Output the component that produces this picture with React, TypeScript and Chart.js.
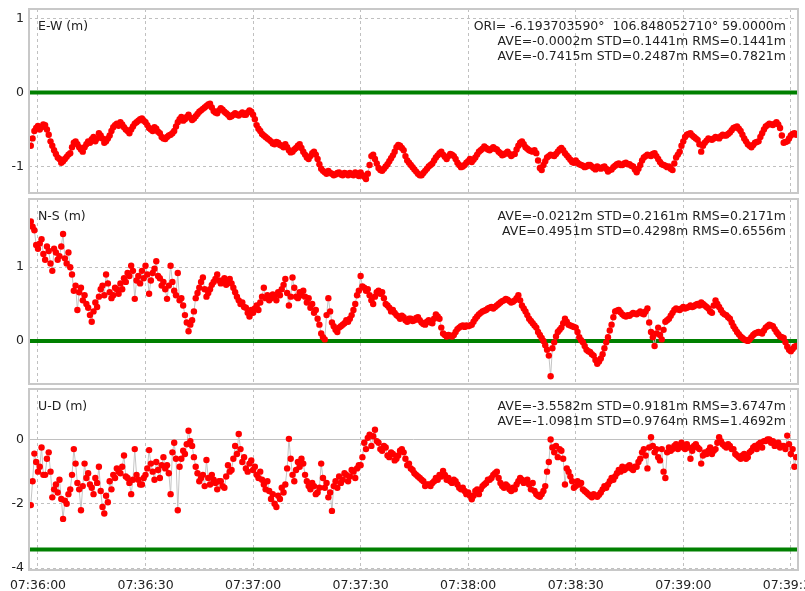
import React, { useEffect, useRef } from 'react';
import { Chart, registerables } from 'chart.js';

Chart.register(...registerables);

// first sample time (seconds after 07:36:00) and sampling interval (s)
const START_SEC = -2;
const SAMPLE_STEP = 0.5;
const BASE_CLOCK = '07:36:00';

const EW = [
  -0.72, -0.62, -0.52, -0.48, -0.45, -0.50, -0.47, -0.43, -0.44, -0.50,
  -0.57, -0.66, -0.72, -0.78, -0.83, -0.88, -0.90, -0.95, -0.93, -0.90,
  -0.87, -0.84, -0.82, -0.74, -0.68, -0.66, -0.70, -0.74, -0.77, -0.80,
  -0.74, -0.70, -0.66, -0.68, -0.63, -0.60, -0.66, -0.62, -0.55, -0.58,
  -0.62, -0.68, -0.66, -0.62, -0.58, -0.52, -0.47, -0.44, -0.42, -0.45,
  -0.40, -0.43, -0.47, -0.50, -0.52, -0.55, -0.50, -0.46, -0.42, -0.40,
  -0.38, -0.36, -0.35, -0.38, -0.40, -0.44, -0.48, -0.50, -0.52, -0.47,
  -0.49, -0.53, -0.55, -0.60, -0.62, -0.63, -0.60, -0.58, -0.57, -0.55,
  -0.52, -0.46, -0.40, -0.36, -0.33, -0.38, -0.36, -0.33, -0.30, -0.34,
  -0.37, -0.35, -0.32, -0.29, -0.26, -0.24, -0.22, -0.20, -0.18, -0.16,
  -0.15, -0.20, -0.25, -0.27, -0.28, -0.24, -0.21, -0.23, -0.26, -0.28,
  -0.30, -0.33, -0.32, -0.30, -0.28, -0.30, -0.31, -0.29, -0.27, -0.30,
  -0.30, -0.27, -0.24, -0.26, -0.30, -0.36, -0.44, -0.49, -0.52, -0.56,
  -0.58, -0.60, -0.62, -0.64, -0.66, -0.69, -0.70, -0.67, -0.68, -0.71,
  -0.72, -0.74, -0.70, -0.74, -0.78, -0.81, -0.80, -0.77, -0.75, -0.72,
  -0.70, -0.75, -0.80, -0.84, -0.88, -0.90, -0.86, -0.82, -0.80, -0.84,
  -0.90, -0.97, -1.03, -1.06, -1.08, -1.10, -1.06, -1.09, -1.10, -1.12,
  -1.11, -1.09, -1.08, -1.11, -1.12, -1.09, -1.10, -1.12, -1.09, -1.11,
  -1.12, -1.08, -1.10, -1.13, -1.08, -1.12, -1.14, -1.17, -1.10, -0.98,
  -0.86, -0.84, -0.90, -0.96, -1.02, -1.05, -1.06, -1.03, -1.00, -0.97,
  -0.93, -0.89, -0.85, -0.80, -0.74, -0.71, -0.72, -0.75, -0.78, -0.86,
  -0.92, -0.95, -0.98, -1.01, -1.04, -1.07, -1.10, -1.12, -1.12, -1.09,
  -1.06, -1.03, -1.00, -0.98, -0.96, -0.92, -0.88, -0.85, -0.82, -0.80,
  -0.84, -0.87, -0.90, -0.86, -0.83, -0.84, -0.86, -0.90, -0.95, -0.98,
  -1.01, -1.00, -0.98, -0.95, -0.93, -0.90, -0.94, -0.91, -0.88, -0.84,
  -0.80, -0.78, -0.76, -0.73, -0.75, -0.77, -0.78, -0.76, -0.74, -0.76,
  -0.77, -0.80, -0.82, -0.85, -0.84, -0.82, -0.80, -0.83, -0.86, -0.84,
  -0.83, -0.77, -0.72, -0.68, -0.66, -0.70, -0.74, -0.76, -0.78, -0.79,
  -0.80, -0.78, -0.82, -0.92, -1.02, -1.05, -0.98, -0.93, -0.88, -0.86,
  -0.84, -0.85, -0.86, -0.83, -0.80, -0.77, -0.75, -0.78, -0.82, -0.85,
  -0.88, -0.91, -0.94, -0.95, -0.92, -0.95, -0.97, -0.98, -0.99, -1.01,
  -1.00, -0.98, -0.98, -1.00, -1.02, -1.04, -1.00, -1.02, -1.03, -1.01,
  -1.00, -1.03, -1.07, -1.05, -1.04, -1.01, -0.99, -0.97, -0.96, -0.98,
  -0.98, -0.96, -0.95, -0.97, -0.97, -0.99, -1.00, -1.04, -1.08, -1.03,
  -0.98, -0.92, -0.88, -0.86, -0.84, -0.85, -0.86, -0.83, -0.82, -0.86,
  -0.90, -0.94, -0.97, -0.98, -0.99, -1.01, -1.00, -1.03, -1.05, -0.96,
  -0.88, -0.84, -0.80, -0.72, -0.66, -0.60, -0.57, -0.56, -0.55, -0.58,
  -0.60, -0.62, -0.64, -0.70, -0.80, -0.72, -0.68, -0.65, -0.62, -0.63,
  -0.64, -0.62, -0.60, -0.61, -0.62, -0.59, -0.57, -0.58, -0.58, -0.56,
  -0.54, -0.51, -0.48, -0.47, -0.46, -0.49, -0.52, -0.57, -0.62, -0.66,
  -0.70, -0.72, -0.74, -0.71, -0.68, -0.67, -0.66, -0.60, -0.55, -0.50,
  -0.46, -0.44, -0.42, -0.43, -0.44, -0.42, -0.40, -0.43, -0.48, -0.58,
  -0.68, -0.67, -0.66, -0.62, -0.58, -0.56, -0.55, -0.57,
];

const NS = [
  1.62, 1.55, 1.50, 1.30, 1.25, 1.32, 1.38, 1.18, 1.10, 1.28,
  1.22, 1.05, 0.95, 1.25, 1.20, 1.10, 1.15, 1.28, 1.45, 1.12,
  1.05, 1.20, 1.00, 0.90, 0.68, 0.75, 0.42, 0.66, 0.72, 0.55,
  0.62, 0.50, 0.45, 0.35, 0.26, 0.40, 0.52, 0.46, 0.60, 0.70,
  0.75, 0.62, 0.90, 0.78, 0.66, 0.58, 0.62, 0.72, 0.70, 0.64,
  0.78, 0.70, 0.85, 0.80, 0.92, 0.88, 1.02, 0.95, 0.57, 0.82,
  0.88, 0.78, 0.95, 0.85, 1.02, 0.90, 0.64, 0.82, 0.92, 0.98,
  1.08, 0.88, 0.85, 0.75, 0.80, 0.70, 0.57, 0.75, 1.02, 0.80,
  0.68, 0.62, 0.92, 0.55, 0.58, 0.48, 0.35, 0.25, 0.13, 0.22,
  0.28, 0.40, 0.58, 0.65, 0.72, 0.80, 0.86, 0.70, 0.60, 0.65,
  0.70, 0.76, 0.80, 0.84, 0.90, 0.82, 0.78, 0.82, 0.85, 0.76,
  0.80, 0.84, 0.78, 0.72, 0.66, 0.60, 0.55, 0.50, 0.52, 0.46,
  0.45, 0.38, 0.33, 0.42, 0.38, 0.44, 0.48, 0.42, 0.52, 0.60,
  0.72, 0.58, 0.62, 0.55, 0.58, 0.63, 0.60, 0.55, 0.66, 0.62,
  0.70, 0.76, 0.84, 0.65, 0.48, 0.60, 0.86, 0.72, 0.60, 0.58,
  0.66, 0.62, 0.68, 0.60, 0.52, 0.58, 0.45, 0.50, 0.38, 0.42,
  0.30, 0.22, 0.10, 0.05, 0.02, 0.35, 0.58, 0.40, 0.25, 0.20,
  0.15, 0.12, 0.18, 0.20, 0.22, 0.24, 0.28, 0.26, 0.30, 0.35,
  0.42, 0.50, 0.62, 0.68, 0.88, 0.74, 0.72, 0.68, 0.70, 0.62,
  0.55, 0.50, 0.60, 0.66, 0.68, 0.64, 0.66, 0.58, 0.50, 0.48,
  0.45, 0.40, 0.42, 0.38, 0.35, 0.33, 0.30, 0.34, 0.32, 0.28,
  0.26, 0.30, 0.30, 0.27, 0.28, 0.31, 0.32, 0.28, 0.25, 0.23,
  0.22, 0.26, 0.28, 0.25, 0.24, 0.30, 0.36, 0.33, 0.30, 0.18,
  0.10, 0.08, 0.06, 0.08, 0.07, 0.06, 0.08, 0.12, 0.16, 0.18,
  0.20, 0.21, 0.19, 0.21, 0.20, 0.21, 0.22, 0.26, 0.30, 0.33,
  0.36, 0.38, 0.40, 0.41, 0.42, 0.44, 0.45, 0.46, 0.44, 0.46,
  0.48, 0.50, 0.52, 0.54, 0.55, 0.57, 0.56, 0.54, 0.52, 0.53,
  0.55, 0.58, 0.62, 0.55, 0.48, 0.44, 0.40, 0.35, 0.30, 0.27,
  0.24, 0.21, 0.18, 0.12, 0.08, 0.04, 0.00, -0.06, -0.12, -0.20,
  -0.48, -0.10, -0.02, 0.06, 0.12, 0.15, 0.18, 0.24, 0.30, 0.26,
  0.22, 0.21, 0.20, 0.19, 0.18, 0.12, 0.05, 0.01, -0.02, -0.07,
  -0.12, -0.14, -0.15, -0.18, -0.20, -0.26, -0.31, -0.28, -0.24, -0.18,
  -0.10, -0.02, 0.05, 0.14, 0.22, 0.32, 0.40, 0.41, 0.42, 0.39,
  0.36, 0.34, 0.33, 0.35, 0.34, 0.36, 0.38, 0.37, 0.36, 0.38,
  0.40, 0.37, 0.36, 0.40, 0.44, 0.25, 0.12, 0.05, -0.07, 0.10,
  0.18, 0.08, 0.02, 0.15, 0.26, 0.28, 0.30, 0.34, 0.38, 0.42,
  0.44, 0.43, 0.42, 0.44, 0.46, 0.44, 0.45, 0.46, 0.48, 0.46,
  0.47, 0.49, 0.50, 0.48, 0.52, 0.50, 0.48, 0.46, 0.44, 0.40,
  0.38, 0.48, 0.55, 0.50, 0.46, 0.42, 0.38, 0.36, 0.35, 0.32,
  0.30, 0.25, 0.20, 0.16, 0.12, 0.09, 0.06, 0.04, 0.02, 0.01,
  0.00, 0.02, 0.05, 0.08, 0.10, 0.11, 0.12, 0.11, 0.10, 0.14,
  0.18, 0.20, 0.22, 0.21, 0.20, 0.16, 0.12, 0.09, 0.06, 0.05,
  0.04, -0.02, -0.08, -0.12, -0.14, -0.11, -0.08, -0.07,
];

const UD = [
  -2.04, -1.30, -0.44, -0.70, -1.00, -0.85, -0.25, -1.10, -1.10, -0.60,
  -0.40, -1.00, -1.80, -1.55, -1.40, -1.65, -1.25, -1.85, -2.47, -1.90,
  -2.00, -1.70, -1.55, -1.10, -0.30, -0.75, -1.35, -1.55, -2.20, -1.45,
  -0.75, -1.20, -1.05, -1.40, -1.50, -1.70, -1.20, -1.35, -0.85, -1.60,
  -2.10, -2.30, -1.75, -1.95, -1.30, -1.55, -1.10, -1.20, -0.90, -1.00,
  -1.05, -0.85, -0.50, -1.15, -1.20, -1.35, -1.70, -1.25, -0.30, -1.10,
  -1.25, -1.40, -1.40, -1.20, -1.10, -0.90, -0.33, -0.75, -1.00, -1.25,
  -0.70, -0.95, -1.20, -0.80, -0.55, -0.90, -0.80, -1.05, -1.70, -0.40,
  -0.10, -0.60, -2.20, -0.85, -0.60, -0.35, -0.45, -0.15, 0.27, -0.05,
  -0.20, -0.55, -0.85, -1.05, -1.30, -1.20, -1.10, -1.45, -0.64, -1.20,
  -1.40, -1.10, -1.25, -1.35, -1.55, -1.30, -1.30, -1.45, -1.50, -1.15,
  -0.80, -1.00, -0.95, -0.60, -0.20, -0.45, 0.17, -0.30, -0.70, -0.55,
  -0.90, -1.00, -0.75, -0.65, -0.95, -0.85, -1.10, -1.20, -1.00, -1.25,
  -1.40, -1.55, -1.30, -1.60, -1.85, -1.70, -2.00, -2.10, -1.75, -1.85,
  -1.50, -1.65, -1.40, -0.90, 0.02, -0.60, -1.10, -1.30, -0.95, -0.70,
  -0.85, -0.60, -0.75, -1.10, -1.30, -1.45, -1.55, -1.35, -1.45, -1.70,
  -1.65, -1.50, -0.75, -1.20, -1.50, -1.35, -1.80, -1.65, -2.22, -1.45,
  -1.30, -1.50, -1.15, -1.35, -1.25, -1.05, -1.10, -1.30, -1.15, -0.95,
  -1.00, -1.20, -0.90, -0.80, -0.80, -0.55, -0.10, -0.30, 0.05, 0.15,
  -0.20, 0.10, 0.30, -0.05, -0.10, -0.30, -0.35, -0.20, -0.25, -0.50,
  -0.55, -0.40, -0.45, -0.65, -0.60, -0.50, -0.35, -0.30, -0.40, -0.60,
  -0.80, -0.75, -0.90, -0.95, -1.05, -1.10, -1.15, -1.20, -1.25, -1.30,
  -1.45, -1.40, -1.40, -1.45, -1.35, -1.30, -1.20, -1.25, -1.10, -1.15,
  -0.98, -1.10, -1.25, -1.20, -1.30, -1.35, -1.25, -1.30, -1.40, -1.50,
  -1.55, -1.50, -1.60, -1.70, -1.65, -1.75, -1.86, -1.75, -1.60, -1.55,
  -1.70, -1.55, -1.45, -1.40, -1.35, -1.25, -1.25, -1.20, -1.10, -1.05,
  -1.00, -1.20, -1.35, -1.45, -1.50, -1.40, -1.45, -1.55, -1.60, -1.50,
  -1.55, -1.40, -1.30, -1.20, -1.25, -1.35, -1.30, -1.25, -1.40, -1.55,
  -1.35, -1.60, -1.70, -1.75, -1.78, -1.70, -1.60, -1.45, -1.00, -0.70,
  0.00, -0.25, -0.40, -0.20, -0.55, -0.30, -0.35, -0.60, -1.40, -0.90,
  -1.00, -1.15, -1.30, -1.50, -1.45, -1.30, -1.40, -1.35, -1.55, -1.60,
  -1.65, -1.70, -1.75, -1.80, -1.70, -1.75, -1.78, -1.72, -1.65, -1.55,
  -1.45, -1.50, -1.40, -1.30, -1.20, -1.25, -1.15, -1.05, -0.95, -1.00,
  -0.85, -0.95, -0.90, -0.85, -0.80, -0.90, -0.95, -0.85, -0.85, -0.70,
  -0.60, -0.40, -0.30, -0.50, -0.90, -0.25, 0.07, -0.20, -0.40, -0.30,
  -0.55, -0.65, -0.30, -1.00, -1.20, -0.40, -0.25, -0.35, -0.30, -0.20,
  -0.15, -0.30, -0.20, -0.10, -0.25, -0.30, -0.15, -0.25, -0.60, -0.35,
  -0.20, -0.15, -0.25, -0.30, -0.75, -0.50, -0.40, -0.45, -0.35, -0.25,
  -0.45, -0.35, -0.30, -0.10, 0.07, -0.05, -0.15, -0.20, -0.25, -0.15,
  -0.20, -0.30, -0.30, -0.45, -0.50, -0.55, -0.60, -0.50, -0.45, -0.60,
  -0.55, -0.40, -0.35, -0.25, -0.20, -0.30, -0.15, -0.10, -0.25, -0.05,
  -0.05, 0.00, 0.00, -0.10, -0.05, -0.20, -0.15, -0.10, -0.25, -0.20,
  -0.20, -0.30, 0.12, -0.15, -0.45, -0.30, -0.85, -0.55,
];

// reference (green) line levels
const EW_REF = 0;
const NS_REF = 0;
const UD_REF = -3.42;

const EW_TEXT = [
  'ORI= -6.193703590°  106.848052710° 59.0000m',
  'AVE=-0.0002m STD=0.1441m RMS=0.1441m',
  'AVE=-0.7415m STD=0.2487m RMS=0.7821m',
];
const NS_TEXT = [
  'AVE=-0.0212m STD=0.2161m RMS=0.2171m',
  'AVE=0.4951m STD=0.4298m RMS=0.6556m',
];
const UD_TEXT = [
  'AVE=-3.5582m STD=0.9181m RMS=3.6747m',
  'AVE=-1.0981m STD=0.9764m RMS=1.4692m',
];

const X_MIN = -2.5;
const X_MAX = 212;
const X_STEP = 30;

const FONT_FAMILY = 'DejaVu Sans';
const FONT_SIZE = 12.5;
const TEXT_COLOR = '#222222';
const GRID_COLOR = '#c0c0c0';
const BORDER_COLOR = '#c8c8c8';

function clockLabel(v: number): string {
  const [h, m, s] = BASE_CLOCK.split(':').map(Number);
  const t = h * 3600 + m * 60 + s + Math.round(v);
  const hh = Math.floor(t / 3600);
  const mm = Math.floor((t % 3600) / 60);
  const ss = t % 60;
  const p = (n: number) => String(n).padStart(2, '0');
  return `${p(hh)}:${p(mm)}:${p(ss)}`;
}

type Panel = {
  title: string;
  values: number[];
  ref: number;
  yMin: number;
  yMax: number;
  yStep: number;
  text: string[];
  top: number;
  height: number;
  padTop: number;
  padBottom: number;
  xAxisH: number;
  showX: boolean;
  zeroLine: boolean;
};

const PANELS: Panel[] = [
  { title: 'E-W (m)', values: EW, ref: EW_REF, yMin: -1.36, yMax: 1.133, yStep: 1, text: EW_TEXT,
    top: 0, height: 197, padTop: 9, padBottom: 1, xAxisH: 0, showX: false, zeroLine: false },
  { title: 'N-S (m)', values: NS, ref: NS_REF, yMin: -0.585, yMax: 1.925, yStep: 1, text: NS_TEXT,
    top: 195, height: 193, padTop: 1, padBottom: 2, xAxisH: 0, showX: false, zeroLine: false },
  { title: 'U-D (m)', values: UD, ref: UD_REF, yMin: -4.058, yMax: 1.569, yStep: 2, text: UD_TEXT,
    top: 385, height: 206, padTop: 1, padBottom: 0, xAxisH: 21, showX: true, zeroLine: true },
];

function makeDecor(p: Panel) {
  return {
    id: 'panelDecor',
    afterDraw(chart: any) {
      const { ctx, chartArea: a } = chart;
      ctx.save();
      ctx.strokeStyle = BORDER_COLOR;
      ctx.lineWidth = 2;
      ctx.strokeRect(a.left, a.top, a.right - a.left, a.bottom - a.top);
      ctx.fillStyle = TEXT_COLOR;
      ctx.font = `${FONT_SIZE}px "${FONT_FAMILY}"`;
      ctx.textBaseline = 'alphabetic';
      ctx.textAlign = 'left';
      ctx.fillText(p.title, a.left + 9, a.top + 21);
      ctx.textAlign = 'right';
      p.text.forEach((line, i) => ctx.fillText(line, a.right - 12, a.top + 21 + i * 15));
      ctx.restore();
    },
  };
}

function buildConfig(p: Panel): any {
  const points = p.values.map((v, i) => ({ x: START_SEC + i * SAMPLE_STEP, y: v }));
  const datasets: any[] = [
    {
      data: points,
      borderColor: '#c4c4c4',
      borderWidth: 1,
      pointRadius: 3.2,
      pointBackgroundColor: '#ff0000',
      pointBorderColor: '#ff0000',
      pointBorderWidth: 0,
      order: 0,
    },
    {
      data: [{ x: X_MIN, y: p.ref }, { x: X_MAX, y: p.ref }],
      borderColor: '#008000',
      borderWidth: 4,
      pointRadius: 0,
      order: 1,
    },
  ];
  const font = { family: FONT_FAMILY, size: FONT_SIZE };
  return {
    type: 'line',
    data: { datasets },
    options: {
      animation: false,
      responsive: false,
      maintainAspectRatio: false,
      layout: { padding: { top: p.padTop, bottom: p.padBottom, left: 0, right: 7 } },
      plugins: { legend: { display: false }, tooltip: { enabled: false } },
      scales: {
        x: {
          type: 'linear',
          min: X_MIN,
          max: X_MAX,
          ticks: {
            stepSize: X_STEP,
            includeBounds: false,
            display: p.showX,
            autoSkip: false,
            maxRotation: 0,
            padding: 8,
            color: TEXT_COLOR,
            font,
            callback: (v: any) => clockLabel(Number(v)),
          },
          grid: { color: GRID_COLOR, drawTicks: false, lineWidth: 1 },
          border: { display: false, dash: [3, 3] },
          afterFit: (s: any) => {
            s.paddingLeft = 0;
            s.paddingRight = 0;
            s.paddingTop = 0;
            s.paddingBottom = 0;
            s.height = p.xAxisH;
          },
        },
        y: {
          type: 'linear',
          min: p.yMin,
          max: p.yMax,
          ticks: {
            stepSize: p.yStep,
            includeBounds: false,
            padding: 5,
            color: TEXT_COLOR,
            font,
            callback: (v: any) => String(v),
          },
          grid: { color: GRID_COLOR, drawTicks: false, lineWidth: 1 },
          border: {
            display: false,
            dash: (c: any) => (p.zeroLine && c && c.tick && c.tick.value === 0 ? [] : [3, 3]),
          },
          afterFit: (s: any) => {
            s.width = 29;
            s.paddingTop = 0;
            s.paddingBottom = 0;
            s.paddingLeft = 0;
            s.paddingRight = 0;
          },
        },
      },
    },
    plugins: [makeDecor(p)],
  };
}

export default function App() {
  const refs = useRef<(HTMLCanvasElement | null)[]>([]);

  useEffect(() => {
    const charts = PANELS.map((p, i) => {
      const c = refs.current[i];
      return c ? new Chart(c, buildConfig(p)) : null;
    });
    return () => charts.forEach((c) => c && c.destroy());
  }, []);

  return (
    <div style={{ position: 'absolute', left: 0, top: 0, width: 805, height: 591, background: '#ffffff', overflow: 'hidden' }}>
      {PANELS.map((p, i) => (
        <div key={p.title} style={{ position: 'absolute', left: 0, top: p.top, width: 805, height: p.height }}>
          <canvas
            ref={(el) => { refs.current[i] = el; }}
            width={805}
            height={p.height}
            style={{ display: 'block', width: 805, height: p.height }}
          />
        </div>
      ))}
    </div>
  );
}
